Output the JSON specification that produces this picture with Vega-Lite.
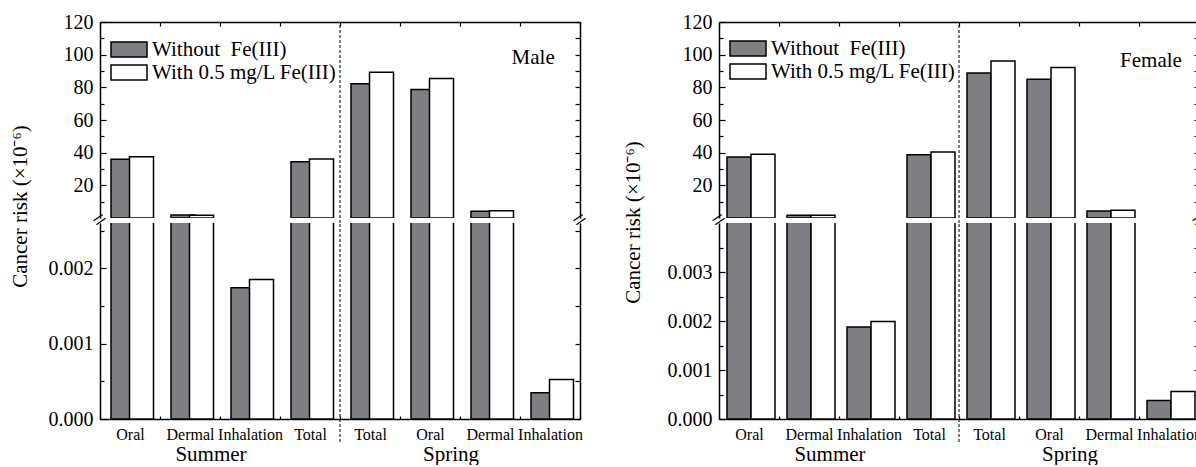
{
  "$schema": "https://vega.github.io/schema/vega-lite/v6.json",
  "background": "white",
  "padding": {"left": 9, "top": 12, "right": 0, "bottom": 0},
  "config": {
    "font": "Liberation Serif",
    "view": {"stroke": null},
    "axis": {"labelFont": "Liberation Serif", "titleFont": "Liberation Serif", "labelFontSize": 20, "labelColor": "black", "domainColor": "black", "tickColor": "black", "domainWidth": 1.5, "tickWidth": 1.2, "titleFontSize": 21, "titleFontWeight": "normal", "titleColor": "black", "grid": false},
    "legend": {"labelFont": "Liberation Serif", "labelColor": "black"}
  },
  "datasets": {
    "bars": [
      {"gender": "Male", "key": "Summer-Oral", "series": "Without\u00a0 Fe(III)", "risk": 35.9},
      {"gender": "Male", "key": "Summer-Oral", "series": "With 0.5 mg/L Fe(III)", "risk": 37.5},
      {"gender": "Male", "key": "Summer-Dermal", "series": "Without\u00a0 Fe(III)", "risk": 1.8},
      {"gender": "Male", "key": "Summer-Dermal", "series": "With 0.5 mg/L Fe(III)", "risk": 1.7},
      {"gender": "Male", "key": "Summer-Inhalation", "series": "Without\u00a0 Fe(III)", "risk": 0.00174},
      {"gender": "Male", "key": "Summer-Inhalation", "series": "With 0.5 mg/L Fe(III)", "risk": 0.00185},
      {"gender": "Male", "key": "Summer-Total", "series": "Without\u00a0 Fe(III)", "risk": 34.5},
      {"gender": "Male", "key": "Summer-Total", "series": "With 0.5 mg/L Fe(III)", "risk": 36.1},
      {"gender": "Male", "key": "Spring-Total", "series": "Without\u00a0 Fe(III)", "risk": 82.2},
      {"gender": "Male", "key": "Spring-Total", "series": "With 0.5 mg/L Fe(III)", "risk": 89.3},
      {"gender": "Male", "key": "Spring-Oral", "series": "Without\u00a0 Fe(III)", "risk": 78.7},
      {"gender": "Male", "key": "Spring-Oral", "series": "With 0.5 mg/L Fe(III)", "risk": 85.4},
      {"gender": "Male", "key": "Spring-Dermal", "series": "Without\u00a0 Fe(III)", "risk": 4.1},
      {"gender": "Male", "key": "Spring-Dermal", "series": "With 0.5 mg/L Fe(III)", "risk": 4.5},
      {"gender": "Male", "key": "Spring-Inhalation", "series": "Without\u00a0 Fe(III)", "risk": 0.000347},
      {"gender": "Male", "key": "Spring-Inhalation", "series": "With 0.5 mg/L Fe(III)", "risk": 0.000524},
      {"gender": "Female", "key": "Summer-Oral", "series": "Without\u00a0 Fe(III)", "risk": 37.4},
      {"gender": "Female", "key": "Summer-Oral", "series": "With 0.5 mg/L Fe(III)", "risk": 39.0},
      {"gender": "Female", "key": "Summer-Dermal", "series": "Without\u00a0 Fe(III)", "risk": 1.7},
      {"gender": "Female", "key": "Summer-Dermal", "series": "With 0.5 mg/L Fe(III)", "risk": 1.7},
      {"gender": "Female", "key": "Summer-Inhalation", "series": "Without\u00a0 Fe(III)", "risk": 0.00188},
      {"gender": "Female", "key": "Summer-Inhalation", "series": "With 0.5 mg/L Fe(III)", "risk": 0.00199},
      {"gender": "Female", "key": "Summer-Total", "series": "Without\u00a0 Fe(III)", "risk": 38.8},
      {"gender": "Female", "key": "Summer-Total", "series": "With 0.5 mg/L Fe(III)", "risk": 40.4},
      {"gender": "Female", "key": "Spring-Total", "series": "Without\u00a0 Fe(III)", "risk": 88.8},
      {"gender": "Female", "key": "Spring-Total", "series": "With 0.5 mg/L Fe(III)", "risk": 96.1},
      {"gender": "Female", "key": "Spring-Oral", "series": "Without\u00a0 Fe(III)", "risk": 84.9},
      {"gender": "Female", "key": "Spring-Oral", "series": "With 0.5 mg/L Fe(III)", "risk": 92.1},
      {"gender": "Female", "key": "Spring-Dermal", "series": "Without\u00a0 Fe(III)", "risk": 4.3},
      {"gender": "Female", "key": "Spring-Dermal", "series": "With 0.5 mg/L Fe(III)", "risk": 4.7},
      {"gender": "Female", "key": "Spring-Inhalation", "series": "Without\u00a0 Fe(III)", "risk": 0.000376},
      {"gender": "Female", "key": "Spring-Inhalation", "series": "With 0.5 mg/L Fe(III)", "risk": 0.00056}
    ]
  },
  "columns": 2,
  "spacing": {"row": 5, "column": 139},
  "bounds": "flush",
  "resolve": {"scale": {"fill": "independent"}, "legend": {"fill": "independent"}},
  "concat": [
    {
      "width": 480, "height": 196,
      "resolve": {"axis": {"x": "independent", "y": "independent"}},
      "layer": [
        {
          "data": {"name": "bars"},
          "transform": [{"filter": "datum.gender == 'Male' && datum.series != 'With 0.5 mg/L Fe(III)' && datum.risk > 0.5"}],
          "mark": {"type": "bar", "width": 24, "xOffset": -7, "stroke": "black", "strokeWidth": 1.5, "clip": true},
          "encoding": {
            "x": {"field": "key", "type": "nominal", "sort": null, "scale": {"domain": ["Summer-Oral","Summer-Dermal","Summer-Inhalation","Summer-Total","Spring-Total","Spring-Oral","Spring-Dermal","Spring-Inhalation"], "paddingInner": 0, "paddingOuter": 0}, "axis": {"orient": "top", "labels": false, "title": null, "tickSize": -4, "tickBand": "extent"}},
            "y": {"field": "risk", "type": "quantitative", "scale": {"domain": [0, 120], "nice": false, "zero": true}, "axis": {"orient": "left", "values": [10,20,30,40,50,60,70,80,90,100,110,120], "labelExpr": "datum.value % 20 == 0 ? datum.label : ''", "tickSize": {"condition": {"test": "datum.value % 20 == 0", "value": -6}, "value": -4}, "labelPadding": 13, "title": "Cancer risk (×10⁻⁶)", "titleX": -80, "titleY": 184, "titleAngle": -90, "titleAlign": "center", "titleBaseline": "middle"}},
            "fill": {"field": "series", "type": "nominal", "scale": {"domain": ["Without\u00a0 Fe(III)", "With 0.5 mg/L Fe(III)"], "range": ["#7e7e83", "#ffffff"]}, "legend": {"orient": "none", "legendX": 18.5, "legendY": 17, "title": null, "symbolType": "M-2.4,-1H2.4V1H-2.4Z", "symbolSize": 225, "symbolStrokeColor": "black", "symbolStrokeWidth": 1.5, "labelFontSize": 21, "labelOffset": 12.5, "rowPadding": 1, "padding": 0, "labelLimit": 400}}
          }
        },
        {
          "data": {"name": "bars"},
          "transform": [{"filter": "datum.gender == 'Male' && datum.series == 'With 0.5 mg/L Fe(III)' && datum.risk > 0.5"}],
          "mark": {"type": "bar", "width": 24, "xOffset": 11.5, "stroke": "black", "strokeWidth": 1.5, "clip": true},
          "encoding": {
            "x": {"field": "key", "type": "nominal", "sort": null, "axis": null},
            "y": {"field": "risk", "type": "quantitative", "axis": {"orient": "right", "values": [10,20,30,40,50,60,70,80,90,100,110,120], "labels": false, "title": null, "tickSize": -5}},
            "fill": {"field": "series", "type": "nominal", "legend": {"orient": "none", "legendX": 18.5, "legendY": 17, "title": null, "symbolType": "M-2.4,-1H2.4V1H-2.4Z", "symbolSize": 225, "symbolStrokeColor": "black", "symbolStrokeWidth": 1.5, "labelFontSize": 21, "labelOffset": 12.5, "rowPadding": 1, "padding": 0, "labelLimit": 400}}
          }
        },
        {
          "data": {"values": [{"boundary": "Spring-Total"}]},
          "mark": {"type": "rule", "color": "black", "strokeWidth": 1, "strokeDash": [3, 2], "yOffset": 5},
          "encoding": {
            "x": {"field": "boundary", "type": "nominal", "bandPosition": 0, "axis": null},
            "y": {"datum": 0, "type": "quantitative", "axis": null},
            "y2": {"datum": 120}
          }
        },
        {
          "data": {"values": [{"label": "Male", "key": "Spring-Inhalation"}]},
          "mark": {"type": "text", "fontSize": 21, "align": "center", "baseline": "middle", "color": "black"},
          "encoding": {
            "x": {"field": "key", "type": "nominal", "bandPosition": 0.22, "axis": null},
            "y": {"datum": 98, "type": "quantitative", "axis": null},
            "text": {"field": "label"}
          }
        },
        {
          "data": {"values": [{"sym": "=", "key": "Summer-Oral"}]},
          "mark": {"type": "text", "fontSize": 24, "align": "center", "baseline": "middle", "angle": -35, "yOffset": 2.5, "color": "black"},
          "encoding": {
            "x": {"field": "key", "type": "nominal", "bandPosition": 0, "axis": null},
            "y": {"datum": 0, "type": "quantitative", "axis": null},
            "text": {"field": "sym"}
          }
        },
        {
          "data": {"values": [{"sym": "=", "key": "Spring-Inhalation"}]},
          "mark": {"type": "text", "fontSize": 24, "align": "center", "baseline": "middle", "angle": -35, "yOffset": 2.5, "color": "black"},
          "encoding": {
            "x": {"field": "key", "type": "nominal", "bandPosition": 1, "axis": null},
            "y": {"datum": 0, "type": "quantitative", "axis": null},
            "text": {"field": "sym"}
          }
        }
      ]
    },
    {
      "width": 480, "height": 196,
      "resolve": {"axis": {"x": "independent", "y": "independent"}},
      "layer": [
        {
          "data": {"name": "bars"},
          "transform": [{"filter": "datum.gender == 'Female' && datum.series != 'With 0.5 mg/L Fe(III)' && datum.risk > 0.5"}],
          "mark": {"type": "bar", "width": 24, "xOffset": -10, "stroke": "black", "strokeWidth": 1.5, "clip": true},
          "encoding": {
            "x": {"field": "key", "type": "nominal", "sort": null, "scale": {"domain": ["Summer-Oral","Summer-Dermal","Summer-Inhalation","Summer-Total","Spring-Total","Spring-Oral","Spring-Dermal","Spring-Inhalation"], "paddingInner": 0, "paddingOuter": 0}, "axis": {"orient": "top", "labels": false, "title": null, "tickSize": -4, "tickBand": "extent"}},
            "y": {"field": "risk", "type": "quantitative", "scale": {"domain": [0, 120], "nice": false, "zero": true}, "axis": {"orient": "left", "values": [10,20,30,40,50,60,70,80,90,100,110,120], "labelExpr": "datum.value % 20 == 0 ? datum.label : ''", "tickSize": {"condition": {"test": "datum.value % 20 == 0", "value": -6}, "value": -4}, "labelPadding": 13, "title": "Cancer risk (×10⁻⁶)", "titleX": -86, "titleY": 200, "titleAngle": -90, "titleAlign": "center", "titleBaseline": "middle"}},
            "fill": {"field": "series", "type": "nominal", "scale": {"domain": ["Without\u00a0 Fe(III)", "With 0.5 mg/L Fe(III)"], "range": ["#7e7e83", "#ffffff"]}, "legend": {"orient": "none", "legendX": 18.5, "legendY": 16, "title": null, "symbolType": "M-2.4,-1H2.4V1H-2.4Z", "symbolSize": 225, "symbolStrokeColor": "black", "symbolStrokeWidth": 1.5, "labelFontSize": 21, "labelOffset": 12.5, "rowPadding": 1, "padding": 0, "labelLimit": 400}}
          }
        },
        {
          "data": {"name": "bars"},
          "transform": [{"filter": "datum.gender == 'Female' && datum.series == 'With 0.5 mg/L Fe(III)' && datum.risk > 0.5"}],
          "mark": {"type": "bar", "width": 24, "xOffset": 14, "stroke": "black", "strokeWidth": 1.5, "clip": true},
          "encoding": {
            "x": {"field": "key", "type": "nominal", "sort": null, "axis": null},
            "y": {"field": "risk", "type": "quantitative", "axis": {"orient": "right", "values": [10,20,30,40,50,60,70,80,90,100,110,120], "labels": false, "title": null, "tickSize": -5}},
            "fill": {"field": "series", "type": "nominal", "legend": {"orient": "none", "legendX": 18.5, "legendY": 16, "title": null, "symbolType": "M-2.4,-1H2.4V1H-2.4Z", "symbolSize": 225, "symbolStrokeColor": "black", "symbolStrokeWidth": 1.5, "labelFontSize": 21, "labelOffset": 12.5, "rowPadding": 1, "padding": 0, "labelLimit": 400}}
          }
        },
        {
          "data": {"values": [{"boundary": "Spring-Total"}]},
          "mark": {"type": "rule", "color": "black", "strokeWidth": 1, "strokeDash": [3, 2], "yOffset": 5},
          "encoding": {
            "x": {"field": "boundary", "type": "nominal", "bandPosition": 0, "axis": null},
            "y": {"datum": 0, "type": "quantitative", "axis": null},
            "y2": {"datum": 120}
          }
        },
        {
          "data": {"values": [{"label": "Female", "key": "Spring-Inhalation"}]},
          "mark": {"type": "text", "fontSize": 21, "align": "center", "baseline": "middle", "color": "black"},
          "encoding": {
            "x": {"field": "key", "type": "nominal", "bandPosition": 0.2, "axis": null},
            "y": {"datum": 96, "type": "quantitative", "axis": null},
            "text": {"field": "label"}
          }
        },
        {
          "data": {"values": [{"sym": "=", "key": "Summer-Oral"}]},
          "mark": {"type": "text", "fontSize": 24, "align": "center", "baseline": "middle", "angle": -35, "yOffset": 2.5, "color": "black"},
          "encoding": {
            "x": {"field": "key", "type": "nominal", "bandPosition": 0, "axis": null},
            "y": {"datum": 0, "type": "quantitative", "axis": null},
            "text": {"field": "sym"}
          }
        },
        {
          "data": {"values": [{"sym": "=", "key": "Spring-Inhalation"}]},
          "mark": {"type": "text", "fontSize": 24, "align": "center", "baseline": "middle", "angle": -35, "yOffset": 2.5, "color": "black"},
          "encoding": {
            "x": {"field": "key", "type": "nominal", "bandPosition": 1, "axis": null},
            "y": {"datum": 0, "type": "quantitative", "axis": null},
            "text": {"field": "sym"}
          }
        }
      ]
    },
    {
      "width": 480, "height": 196,
      "resolve": {"axis": {"x": "independent", "y": "independent"}},
      "layer": [
        {
          "data": {"name": "bars"},
          "transform": [{"filter": "datum.gender == 'Male' && datum.series != 'With 0.5 mg/L Fe(III)'"}],
          "mark": {"type": "bar", "width": 24, "xOffset": -7, "stroke": "black", "strokeWidth": 1.5, "clip": true},
          "encoding": {
            "x": {"field": "key", "type": "nominal", "sort": null, "scale": {"domain": ["Summer-Oral","Summer-Dermal","Summer-Inhalation","Summer-Total","Spring-Total","Spring-Oral","Spring-Dermal","Spring-Inhalation"], "paddingInner": 0, "paddingOuter": 0}, "axis": {"orient": "bottom", "title": null, "labelAngle": 0, "labelFontSize": 16, "labelExpr": "split(datum.label, '-')[1]", "tickSize": -3, "tickBand": "extent", "labelPadding": 10}},
            "y": {"field": "risk", "type": "quantitative", "scale": {"domain": [0, 0.0026], "nice": false, "zero": true}, "axis": {"orient": "left", "values": [0, 0.0005, 0.001, 0.0015, 0.002, 0.0025], "labelExpr": "round(datum.value*10000) % 10 == 0 ? format(datum.value, '.3f') : ''", "tickSize": {"condition": {"test": "round(datum.value*10000) % 10 == 0", "value": -6}, "value": -4}, "labelPadding": 13, "title": null}},
            "fill": {"field": "series", "type": "nominal", "scale": {"domain": ["Without\u00a0 Fe(III)", "With 0.5 mg/L Fe(III)"], "range": ["#7e7e83", "#ffffff"]}, "legend": null}
          }
        },
        {
          "data": {"name": "bars"},
          "transform": [{"filter": "datum.gender == 'Male' && datum.series == 'With 0.5 mg/L Fe(III)'"}],
          "mark": {"type": "bar", "width": 24, "xOffset": 11.5, "stroke": "black", "strokeWidth": 1.5, "clip": true},
          "encoding": {
            "x": {"field": "key", "type": "nominal", "sort": null, "axis": null},
            "y": {"field": "risk", "type": "quantitative", "axis": {"orient": "right", "values": [0, 0.0005, 0.001, 0.0015, 0.002, 0.0025], "labels": false, "title": null, "tickSize": -5}},
            "fill": {"field": "series", "type": "nominal", "legend": null}
          }
        },
        {
          "data": {"values": [{"boundary": "Spring-Total"}]},
          "mark": {"type": "rule", "color": "black", "strokeWidth": 1, "strokeDash": [3, 2], "yOffset": 23},
          "encoding": {
            "x": {"field": "boundary", "type": "nominal", "bandPosition": 0, "axis": null},
            "y": {"datum": 0, "type": "quantitative", "axis": null},
            "y2": {"datum": 0.0026}
          }
        },
        {
          "data": {"values": [{"label": "Summer", "at": "Summer-Dermal"}, {"label": "Spring", "at": "Spring-Oral"}]},
          "mark": {"type": "text", "fontSize": 21, "align": "center", "baseline": "middle", "yOffset": 36, "color": "black"},
          "encoding": {
            "x": {"field": "at", "type": "nominal", "bandPosition": 0.85, "axis": null},
            "y": {"datum": 0, "type": "quantitative", "axis": null},
            "text": {"field": "label"}
          }
        }
      ]
    },
    {
      "width": 480, "height": 196,
      "resolve": {"axis": {"x": "independent", "y": "independent"}},
      "layer": [
        {
          "data": {"name": "bars"},
          "transform": [{"filter": "datum.gender == 'Female' && datum.series != 'With 0.5 mg/L Fe(III)'"}],
          "mark": {"type": "bar", "width": 24, "xOffset": -10, "stroke": "black", "strokeWidth": 1.5, "clip": true},
          "encoding": {
            "x": {"field": "key", "type": "nominal", "sort": null, "scale": {"domain": ["Summer-Oral","Summer-Dermal","Summer-Inhalation","Summer-Total","Spring-Total","Spring-Oral","Spring-Dermal","Spring-Inhalation"], "paddingInner": 0, "paddingOuter": 0}, "axis": {"orient": "bottom", "title": null, "labelAngle": 0, "labelFontSize": 16, "labelExpr": "split(datum.label, '-')[1]", "tickSize": -3, "tickBand": "extent", "labelPadding": 10}},
            "y": {"field": "risk", "type": "quantitative", "scale": {"domain": [0, 0.004], "nice": false, "zero": true}, "axis": {"orient": "left", "values": [0, 0.0005, 0.001, 0.0015, 0.002, 0.0025, 0.003, 0.0035], "labelExpr": "round(datum.value*10000) % 10 == 0 ? format(datum.value, '.3f') : ''", "tickSize": {"condition": {"test": "round(datum.value*10000) % 10 == 0", "value": -6}, "value": -4}, "labelPadding": 13, "title": null}},
            "fill": {"field": "series", "type": "nominal", "scale": {"domain": ["Without\u00a0 Fe(III)", "With 0.5 mg/L Fe(III)"], "range": ["#7e7e83", "#ffffff"]}, "legend": null}
          }
        },
        {
          "data": {"name": "bars"},
          "transform": [{"filter": "datum.gender == 'Female' && datum.series == 'With 0.5 mg/L Fe(III)'"}],
          "mark": {"type": "bar", "width": 24, "xOffset": 14, "stroke": "black", "strokeWidth": 1.5, "clip": true},
          "encoding": {
            "x": {"field": "key", "type": "nominal", "sort": null, "axis": null},
            "y": {"field": "risk", "type": "quantitative", "axis": {"orient": "right", "values": [0, 0.0005, 0.001, 0.0015, 0.002, 0.0025, 0.003, 0.0035], "labels": false, "title": null, "tickSize": -5}},
            "fill": {"field": "series", "type": "nominal", "legend": null}
          }
        },
        {
          "data": {"values": [{"boundary": "Spring-Total"}]},
          "mark": {"type": "rule", "color": "black", "strokeWidth": 1, "strokeDash": [3, 2], "yOffset": 23},
          "encoding": {
            "x": {"field": "boundary", "type": "nominal", "bandPosition": 0, "axis": null},
            "y": {"datum": 0, "type": "quantitative", "axis": null},
            "y2": {"datum": 0.004}
          }
        },
        {
          "data": {"values": [{"label": "Summer", "at": "Summer-Dermal"}, {"label": "Spring", "at": "Spring-Oral"}]},
          "mark": {"type": "text", "fontSize": 21, "align": "center", "baseline": "middle", "yOffset": 36, "color": "black"},
          "encoding": {
            "x": {"field": "at", "type": "nominal", "bandPosition": 0.85, "axis": null},
            "y": {"datum": 0, "type": "quantitative", "axis": null},
            "text": {"field": "label"}
          }
        }
      ]
    }
  ]
}
